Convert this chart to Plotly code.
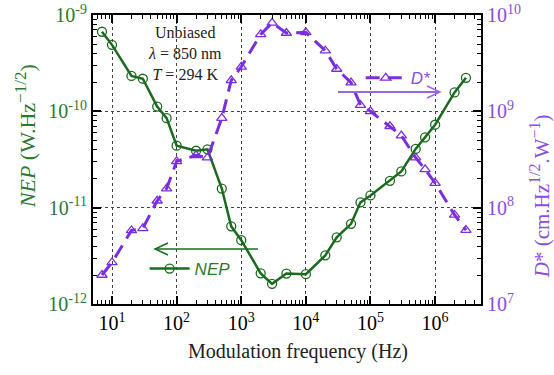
import plotly.graph_objects as go

# ---- data ----
freq = [7, 10, 20, 30, 50, 70, 100, 200, 300, 500, 700, 1e3, 2e3, 3e3, 5e3, 1e4,
        2e4, 3e4, 5e4, 7e4, 1e5, 2e5, 3e5, 5e5, 7e5, 1e6, 2e6, 3e6]
nep = [6.7e-10, 4.9e-10, 2.33e-10, 2.18e-10, 1.12e-10, 8.5e-11, 4.4e-11, 3.9e-11,
       4.03e-11, 1.58e-11, 6.4e-12, 4.6e-12, 2.08e-12, 1.62e-12, 2.07e-12, 2.04e-12,
       3.2e-12, 4.92e-12, 6.8e-12, 1.135e-11, 1.34e-11, 1.9e-11, 2.38e-11, 4.07e-11,
       5.37e-11, 7.26e-11, 1.57e-10, 2.23e-10]
dstar = [2.0e7, 2.7e7, 5.8e7, 6.1e7, 1.18e8, 1.58e8, 3.03e8, 3.5e8, 3.3e8, 8.5e8,
         2.1e9, 2.9e9, 6.3e9, 8.3e9, 6.5e9, 6.6e9, 4.26e9, 2.75e9, 1.99e9, 1.16e9,
         1.0e9, 7.0e8, 5.6e8, 3.3e8, 2.5e8, 1.8e8, 8.4e7, 5.85e7]

x_tickvals = [10, 100, 1e3, 1e4, 1e5, 1e6]
x_ticktext = ["10<sup>1</sup>", "10<sup>2</sup>", "10<sup>3</sup>", "10<sup>4</sup>",
              "10<sup>5</sup>", "10<sup>6</sup>"]
y_tickvals = [1e-12, 1e-11, 1e-10, 1e-9]
y_ticktext = ["10<sup>-12</sup>", "10<sup>-11</sup>", "10<sup>-10</sup>", "10<sup>-9</sup>"]
y2_tickvals = [1e7, 1e8, 1e9, 1e10]
y2_ticktext = ["10<sup>7</sup>", "10<sup>8</sup>", "10<sup>9</sup>", "10<sup>10</sup>"]

GREEN = "#1b6b1f"
GREEN_TXT = "#2b7a2f"
PURPLE = "#7a2ee0"
PURPLE_TXT = "#8a4ee6"
ARROW_PURPLE = "#9a66e8"
SERIF = "Liberation Serif"
SANS = "Liberation Sans"

def minor_vals(lo, hi):
    out = []
    for e in range(lo, hi):
        for m in range(2, 10):
            out.append(m * 10 ** e)
    return out

fig = go.Figure()
fig.add_trace(go.Scatter(
    x=freq, y=nep, name="<i>NEP</i>", mode="lines+markers",
    line=dict(color=GREEN, width=2.5),
    marker=dict(symbol="circle-open", size=9, color=GREEN, line=dict(width=1.3)),
    legend="legend", yaxis="y"))
fig.add_trace(go.Scatter(
    x=freq, y=dstar, name="<i>D*</i>", mode="lines+markers",
    line=dict(color=PURPLE, width=3, dash="14px,8px"),
    marker=dict(symbol="triangle-up-open", size=9, color=PURPLE, line=dict(width=1.3)),
    legend="legend2", yaxis="y2"))

common_axis = dict(showline=True, linecolor="black", linewidth=2, ticks="inside",
                   ticklen=8, tickwidth=1.5, tickcolor="black", zeroline=False,
                   automargin=False, ticklabeloverflow="allow")

fig.update_layout(
    width=554, height=375,
    margin=dict(l=93, r=73, t=15, b=71),
    plot_bgcolor="white", paper_bgcolor="white",
    showlegend=True,
    xaxis=dict(type="log", range=[0.706, 6.71], mirror="ticks",
               tickmode="array", tickvals=x_tickvals, ticktext=x_ticktext,
               tickfont=dict(family=SERIF, size=20, color="black"),
               showgrid=True, gridcolor="#444", griddash="dot", gridwidth=1.2,
               minor=dict(tickmode="array", tickvals=minor_vals(0, 7), ticks="inside",
                          ticklen=4, tickwidth=1, tickcolor="black", showgrid=False),
               **common_axis),
    yaxis=dict(type="log", range=[-12, -9], mirror=True,
               tickmode="array", tickvals=y_tickvals, ticktext=y_ticktext,
               tickfont=dict(family=SERIF, size=20, color=GREEN_TXT),
               showgrid=True, gridcolor="#444", griddash="dot", gridwidth=1.2,
               minor=dict(tickmode="array", tickvals=minor_vals(-12, -9), ticks="inside",
                          ticklen=4, tickwidth=1, tickcolor="black", showgrid=False),
               **common_axis),
    yaxis2=dict(type="log", range=[7, 10], overlaying="y", side="right",
                tickmode="array", tickvals=y2_tickvals, ticktext=y2_ticktext,
                tickfont=dict(family=SERIF, size=20, color=PURPLE_TXT),
                showgrid=False,
                minor=dict(tickmode="array", tickvals=minor_vals(7, 10), ticks="inside",
                           ticklen=4, tickwidth=1, tickcolor="black", showgrid=False),
                **common_axis),
    legend=dict(x=0.133, y=0.121, xanchor="left", yanchor="middle",
                bgcolor="rgba(0,0,0,0)", itemwidth=40,
                font=dict(family=SANS, size=17, color=GREEN_TXT)),
    legend2=dict(x=0.69, y=0.781, xanchor="left", yanchor="middle",
                 bgcolor="rgba(0,0,0,0)", itemwidth=40,
                 font=dict(family=SANS, size=17, color=PURPLE_TXT)),
)

# text annotations
fig.add_annotation(xref="paper", yref="paper", x=0.238, y=0.868, showarrow=False,
                   xanchor="center", yanchor="middle",
                   text="Unbiased<br><i>λ</i> = 850 nm<br><i>T</i> = 294 K",
                   font=dict(family=SERIF, size=16, color="#222"), align="center")
fig.add_annotation(xref="paper", yref="paper", x=-0.175, y=0.581, showarrow=False,
                   xanchor="center", yanchor="middle", textangle=-90,
                   text="<i>NEP</i> (W.Hz<sup><span style='font-size:17px'>−1/2</span></sup>)",
                   font=dict(family=SERIF, size=22, color=GREEN_TXT))
fig.add_annotation(xref="paper", yref="paper", x=1.153, y=0.374, showarrow=False,
                   xanchor="center", yanchor="middle", textangle=-90,
                   text="<i>D</i>* (cm.Hz<sup><span style='font-size:16px'>1/2</span></sup>.W<sup><span style='font-size:16px'>−1</span></sup>)",
                   font=dict(family=SERIF, size=21, color=PURPLE_TXT))
fig.add_annotation(xref="paper", yref="paper", x=0.528, y=-0.166, showarrow=False,
                   xanchor="center", yanchor="middle",
                   text="Modulation frequency (Hz)",
                   font=dict(family=SERIF, size=20, color="#222"))

# arrows (pixel -> paper helpers)
def px(xp):
    return (xp - 93) / 388.0

def py(yp):
    return (304 - yp) / 289.0

# NEP arrow pointing left
fig.add_shape(type="line", xref="paper", yref="paper",
              x0=px(155), y0=py(249), x1=px(258), y1=py(249),
              line=dict(color=GREEN, width=1.5))
fig.add_shape(type="path", xref="paper", yref="paper",
              path=f"M {px(168)} {py(243)} L {px(155)} {py(249)} L {px(168)} {py(255)}",
              line=dict(color=GREEN, width=1.5))
# D* arrow pointing right
fig.add_shape(type="line", xref="paper", yref="paper",
              x0=px(338), y0=py(92), x1=px(440), y1=py(92),
              line=dict(color=ARROW_PURPLE, width=2))
fig.add_shape(type="path", xref="paper", yref="paper",
              path=f"M {px(427)} {py(86)} L {px(440)} {py(92)} L {px(427)} {py(98)}",
              line=dict(color=ARROW_PURPLE, width=1.5))

fig.write_html("out.html", config={"displayModeBar": False},
               post_script="document.body.style.margin='0';document.body.style.overflow='hidden';")
